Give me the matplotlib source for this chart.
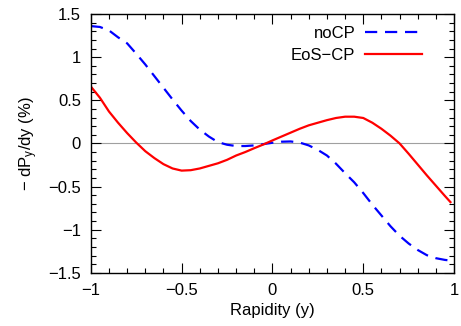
import numpy as np
import matplotlib
matplotlib.use('Agg')
import matplotlib.pyplot as plt
from matplotlib.ticker import MultipleLocator, FuncFormatter

plt.rcParams['font.family'] = ['Liberation Sans', 'DejaVu Sans']
plt.rcParams['mathtext.fontset'] = 'custom'
plt.rcParams['mathtext.rm'] = 'Liberation Sans'
plt.rcParams['mathtext.it'] = 'Liberation Sans:italic'

# rapidity grid and curves (steps of 0.05)
y_rap = [-1.0, -0.95, -0.9, -0.85, -0.8, -0.75, -0.7, -0.65, -0.6, -0.55,
         -0.5, -0.45, -0.4, -0.35, -0.3, -0.25, -0.2, -0.15, -0.1, -0.05,
         0.0, 0.05, 0.1, 0.15, 0.2, 0.25, 0.3, 0.35, 0.4, 0.45,
         0.5, 0.55, 0.6, 0.65, 0.7, 0.75, 0.8, 0.85, 0.9, 0.95, 0.98]
nocp = [1.36, 1.35, 1.31, 1.23, 1.16, 1.04, 0.915, 0.78, 0.645, 0.51,
        0.38, 0.26, 0.16, 0.08, 0.015, -0.015, -0.03, -0.03, -0.023, -0.008,
        0.008, 0.02, 0.023, 0.01, -0.023, -0.075, -0.14, -0.235, -0.345, -0.45,
        -0.575, -0.71, -0.835, -0.96, -1.07, -1.16, -1.235, -1.295, -1.33, -1.35, -1.357]
eoscp = [0.66, 0.53, 0.37, 0.24, 0.12, 0.01, -0.09, -0.17, -0.24, -0.29,
         -0.315, -0.31, -0.29, -0.26, -0.23, -0.19, -0.14, -0.10, -0.055, -0.012,
         0.035, 0.08, 0.125, 0.17, 0.21, 0.24, 0.27, 0.295, 0.31, 0.31,
         0.295, 0.24, 0.17, 0.09, 0.0, -0.12, -0.245, -0.37, -0.49, -0.61, -0.68]

fig = plt.figure(figsize=(4.61, 3.26), dpi=100)
ax = fig.add_axes([0.197, 0.163, 0.788, 0.794])

ax.axhline(0, color='#a0a0a0', lw=0.8, zorder=1)
ax.plot(y_rap, nocp, color='#0000ff', lw=1.6, dashes=(5.5, 3.5), label='noCP')
ax.plot(y_rap, eoscp, color='#ff0000', lw=1.6, label='EoS\u2212CP')

ax.set_xlim(-1, 1)
ax.set_ylim(-1.5, 1.5)
ax.xaxis.set_major_locator(MultipleLocator(0.5))
ax.xaxis.set_minor_locator(MultipleLocator(0.1))
ax.yaxis.set_major_locator(MultipleLocator(0.5))
ax.yaxis.set_minor_locator(MultipleLocator(0.1))
fmt = FuncFormatter(lambda v, p: ('%g' % v).replace('-', '\u2212'))
ax.xaxis.set_major_formatter(fmt)
ax.yaxis.set_major_formatter(fmt)
ax.tick_params(which='both', direction='in', top=True, right=True, labelsize=12, width=0.8)
ax.tick_params(which='major', length=7, pad=7)
ax.tick_params(which='minor', length=3.5)
for s in ax.spines.values():
    s.set_linewidth(1.0)

ax.set_xlabel('Rapidity (y)', fontsize=12, labelpad=4)
ax.set_ylabel('\u2212 dP$_\\mathrm{y}$/dy (%)', fontsize=12, labelpad=6)

leg = ax.legend(loc='upper right', bbox_to_anchor=(0.912, 0.955), frameon=False,
                fontsize=12, markerfirst=False, handlelength=3.4, handletextpad=0.6,
                borderpad=0, borderaxespad=0, labelspacing=0.45)
for t in leg.get_texts():
    t.set_ha('right')

fig.savefig('out.png', dpi=100)
